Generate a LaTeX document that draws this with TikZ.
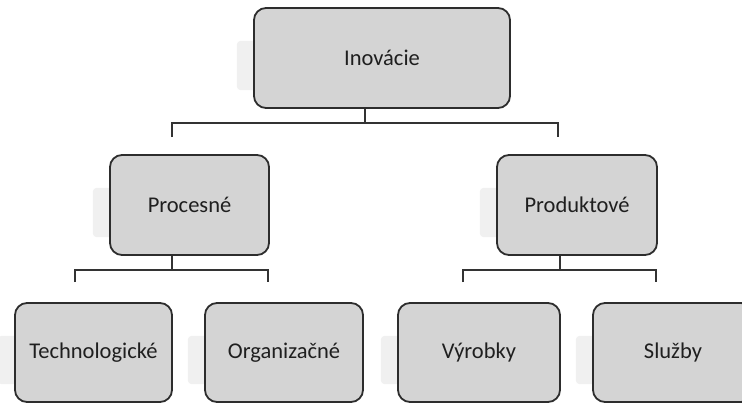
\documentclass[tikz,border=0pt]{standalone}
\usepackage{fontspec}
\setmainfont{Carlito}
\usetikzlibrary{calc}
\definecolor{boxfill}{RGB}{212,212,212}
\definecolor{boxline}{RGB}{45,45,45}
\definecolor{shadowc}{RGB}{240,240,240}
\tikzset{
  orgbox/.style={draw=boxline, line width=1.8pt, fill=boxfill, rounded corners=12pt,
    inner sep=0pt, font=\fontsize{22.5}{26}\selectfont, text=black!88},
  conn/.style={draw=black!80, line width=1.8pt},
}
\newcommand{\softshadow}[1]{%
  \fill[shadowc, rounded corners=4pt] ([xshift=-17pt,yshift=-33pt]#1.north west) rectangle ([xshift=-14pt,yshift=18pt]#1.south east);}
\begin{document}
\begin{tikzpicture}[x=1pt,y=-1pt]
\clip (0,0) rectangle (742,403);
\fill[white] (0,0) rectangle (742,403);
% coordinates of the connector joints
\coordinate (j0) at (365,123);
\coordinate (l0) at (172,123);
\coordinate (r0) at (558,123);
\coordinate (j1) at (172,270);
\coordinate (l1) at (75,270);
\coordinate (r1) at (268,270);
\coordinate (j2) at (560,270);
\coordinate (l2) at (463,270);
\coordinate (r2) at (656,270);
% invisible placeholders to draw shadows first
\path (382,58) node[minimum width=256pt, minimum height=100pt] (s0) {};
\path (189.5,205) node[minimum width=159pt, minimum height=100pt] (s1) {};
\path (577,205) node[minimum width=160pt, minimum height=100pt] (s2) {};
\path (93.5,352.5) node[minimum width=157pt, minimum height=99pt] (s3) {};
\path (284,352.5) node[minimum width=158pt, minimum height=99pt] (s4) {};
\path (479,352.5) node[minimum width=162pt, minimum height=99pt] (s5) {};
\path (673,352.5) node[minimum width=160pt, minimum height=99pt] (s6) {};
\softshadow{s0}\softshadow{s1}\softshadow{s2}\softshadow{s3}\softshadow{s4}\softshadow{s5}\softshadow{s6}
% boxes
\node[orgbox, minimum width=256pt, minimum height=100pt] (inov) at (382,58) {Inovácie};
\node[orgbox, minimum width=159pt, minimum height=100pt] (proc) at (189.5,205) {Procesné};
\node[orgbox, minimum width=160pt, minimum height=100pt] (prod) at (577,205) {Produktové};
\node[orgbox, minimum width=157pt, minimum height=99pt] (tech) at (93.5,352.5) {Technologické};
\node[orgbox, minimum width=158pt, minimum height=99pt] (org) at (284,352.5) {Organizačné};
\node[orgbox, minimum width=162pt, minimum height=99pt] (vyr) at (479,352.5) {Výrobky};
\node[orgbox, minimum width=160pt, minimum height=99pt] (sluz) at (673,352.5) {Služby};
% connectors
\draw[conn] (inov.south -| j0) -- (j0);
\draw[conn] ([yshift=17pt]proc.north -| l0) -- (l0) -- (r0) -- ([yshift=17pt]prod.north -| r0);
\draw[conn] (proc.south -| j1) -- (j1);
\draw[conn] ([yshift=20pt]tech.north -| l1) -- (l1) -- (r1) -- ([yshift=20pt]org.north -| r1);
\draw[conn] (prod.south -| j2) -- (j2);
\draw[conn] ([yshift=20pt]vyr.north -| l2) -- (l2) -- (r2) -- ([yshift=20pt]sluz.north -| r2);
\end{tikzpicture}
\end{document}
